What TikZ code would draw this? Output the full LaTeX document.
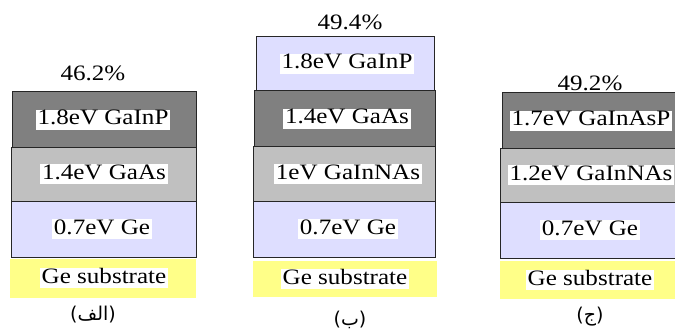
\documentclass[tikz,border=0pt]{standalone}
\usepackage{fontspec}
\setmainfont{Liberation Serif}[FakeStretch=1.14]
\newfontfamily\arabicfont[Script=Arabic]{DejaVu Sans}
\TeXXeTstate=1
\definecolor{darklayer}{RGB}{128,128,128}
\definecolor{lightlayer}{RGB}{192,192,192}
\definecolor{lavlayer}{RGB}{222,222,255}
\definecolor{sublayer}{RGB}{255,255,136}
\tikzset{
  layer/.style={draw=black!85, line width=1pt},
  lbl/.style={fill=white, inner xsep=2pt, inner ysep=0pt, text height=15pt, text depth=5pt, font=\fontsize{22}{24}\selectfont},
  pct/.style={inner sep=0pt, font=\fontsize{22}{24}\selectfont},
  captxt/.style={inner sep=0pt, font=\fontsize{19}{22}\selectfont}
}
\begin{document}
\begin{tikzpicture}[x=1pt,y=-1pt]
\useasboundingbox (0,0) rectangle (675,334);
% Stack A
\fill[sublayer] (10,259) rectangle (196,298);
\filldraw[layer, fill=lavlayer] (11,201) rectangle (196,257);
\filldraw[layer, fill=lightlayer] (11,148) rectangle (196,201);
\filldraw[layer, fill=darklayer] (12,92) rectangle (196,148);
\node[pct] (pa) at (93,73) {46.2\%};
\node[lbl] (a1) at (103,120) {1.8eV GaInP};
\node[lbl] (a2) at (104,174) {1.4eV GaAs};
\node[lbl] (a3) at (102,229) {0.7eV Ge};
\node[lbl] (a4) at (104,278) {Ge substrate};
\node[captxt] (ca) at (93,315) {\arabicfont\beginR(الف)\endR};
% Stack B
\fill[sublayer] (253,261) rectangle (437,297);
\filldraw[layer, fill=lavlayer] (253,201) rectangle (435,257);
\filldraw[layer, fill=lightlayer] (253,147) rectangle (435,201);
\filldraw[layer, fill=darklayer] (254,91) rectangle (435,147);
\filldraw[layer, fill=lavlayer] (256,37) rectangle (434,91);
\node[pct] (pb) at (350,22) {49.4\%};
\node[lbl] (b1) at (347,64) {1.8eV GaInP};
\node[lbl] (b2) at (347,119) {1.4eV GaAs};
\node[lbl] (b3) at (348,174) {1eV GaInNAs};
\node[lbl] (b4) at (348,229) {0.7eV Ge};
\node[lbl] (b5) at (345,279) {Ge substrate};
\node[captxt] (cb) at (350,320) {\arabicfont\beginR(ب)\endR};
% Stack C
\fill[sublayer] (500,261) rectangle (675,299);
\filldraw[layer, fill=lavlayer] (500,202) rectangle (675,258);
\filldraw[layer, fill=lightlayer] (500,149) rectangle (675,202);
\filldraw[layer, fill=darklayer] (502,93) rectangle (675,149);
\node[pct] (pc) at (590,83) {49.2\%};
\node[lbl] (c1) at (591,121) {1.7eV GaInAsP};
\node[lbl] (c2) at (591,175) {1.2eV GaInNAs};
\node[lbl] (c3) at (590,230) {0.7eV Ge};
\node[lbl] (c4) at (590,280) {Ge substrate};
\node[captxt] (cc) at (590,317) {\arabicfont\beginR(ج)\endR};
\end{tikzpicture}
\end{document}
